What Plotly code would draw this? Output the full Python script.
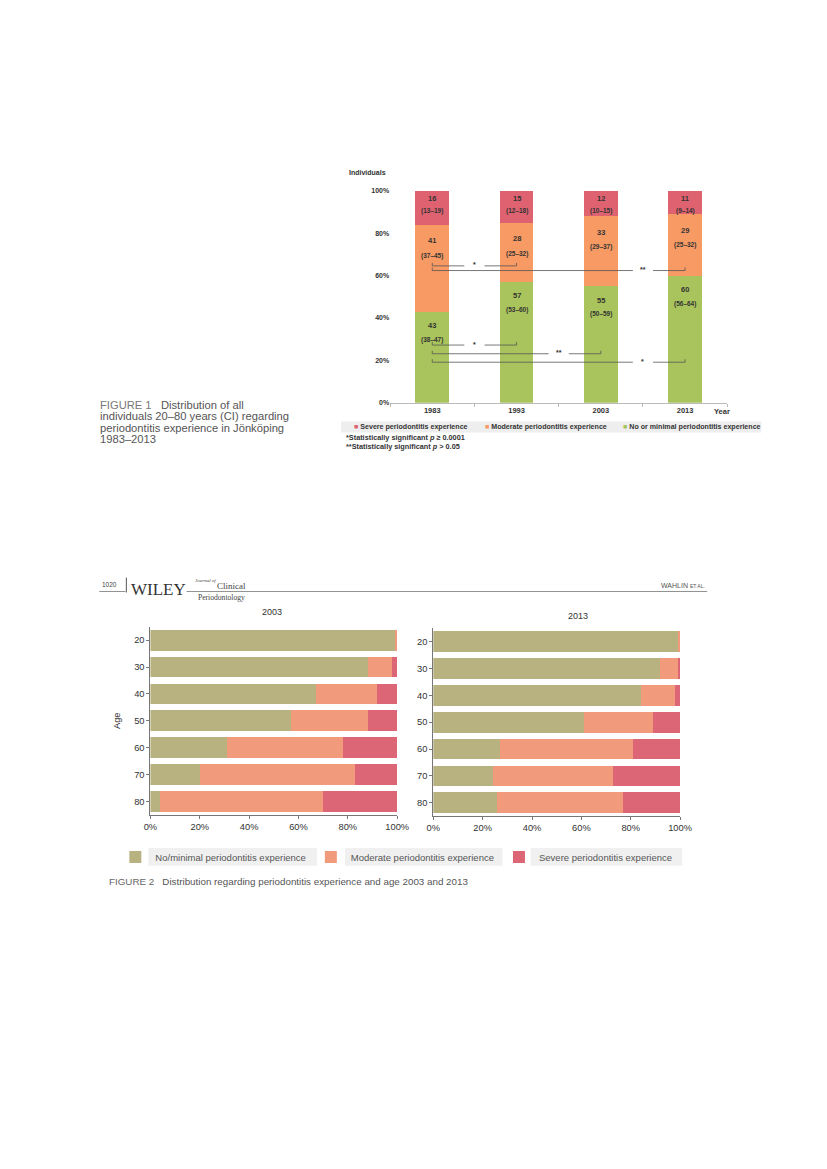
import plotly.graph_objects as go

W, H = 827, 1169

# ---------------- Figure 1 data ----------------
years = ["1983", "1993", "2003", "2013"]
severe_pct = [16, 15, 12, 11]
moderate_pct = [41, 28, 33, 29]
minimal_pct = [43, 57, 55, 60]
severe_ci = ["(13–19)", "(12–18)", "(10–15)", "(9–14)"]
moderate_ci = ["(37–45)", "(25–32)", "(29–37)", "(25–32)"]
minimal_ci = ["(38–47)", "(53–60)", "(50–59)", "(56–64)"]
y_ticks_pct = [0, 20, 40, 60, 80, 100]

# significance brackets (from bar index, to bar index, level in %, mark)
sig_from = [0, 0, 0, 0, 0]
sig_to = [1, 3, 1, 2, 3]
sig_level = [64.6, 62.4, 27.2, 23.1, 19.1]
sig_mark = ["*", "**", "*", "**", "*"]

# ---------------- Figure 2 data ----------------
ages = ["20", "30", "40", "50", "60", "70", "80"]
minimal_2003 = [99, 88, 67, 57, 31, 20, 4]
moderate_2003 = [1, 10, 25, 31, 47, 63, 66]
severe_2003 = [0, 2, 8, 12, 22, 17, 30]
minimal_2013 = [99, 92, 84, 61, 27, 24, 26]
moderate_2013 = [1, 7, 14, 28, 54, 49, 51]
severe_2013 = [0, 1, 2, 11, 19, 27, 23]
x_ticks_pct = [0, 20, 40, 60, 80, 100]

# ---------------- styles ----------------
G1, M1, S1 = "#a9c45c", "#f79a64", "#df6271"
G2, M2, S2 = "#b8b281", "#f29a7c", "#dc6676"
SANS = "Liberation Sans, Arial, sans-serif"
SERIF = "Liberation Serif, Times New Roman, serif"
TXT = "#333333"


def fx(x):
    # page pixel -> figure pixel (calibrated against the rendered page)
    return (x - 16) / 0.974


def px(x):
    return fx(x) / W


def py(y):
    return 1 - (y - 9) / H


fig = go.Figure()

# Figure 1 stacked columns
for vals, col, nm in [(minimal_pct, G1, "No or minimal periodontitis experience"),
                      (moderate_pct, M1, "Moderate periodontitis experience"),
                      (severe_pct, S1, "Severe periodontitis experience")]:
    fig.add_trace(go.Bar(x=years, y=vals, name=nm, marker=dict(color=col, line=dict(width=0)),
                         width=0.4, xaxis="x", yaxis="y", showlegend=False, hoverinfo="skip"))

# Figure 2 horizontal stacked bars
for xa, ya, mn, md, sv, show in [("x2", "y2", minimal_2003, moderate_2003, severe_2003, True),
                                 ("x3", "y3", minimal_2013, moderate_2013, severe_2013, False)]:
    for vals, col, nm in [(mn, G2, "No/minimal periodontitis experience"),
                          (md, M2, "Moderate periodontitis experience"),
                          (sv, S2, "Severe periodontitis experience")]:
        fig.add_trace(go.Bar(y=ages, x=vals, orientation="h", name=nm, legendgroup=nm,
                             marker=dict(color=col, line=dict(width=0)), width=0.77,
                             xaxis=xa, yaxis=ya, showlegend=show, hoverinfo="skip"))

annotations = []
shapes = []


def ptext(x, y, text, size, color=TXT, family=SANS, xanchor="left"):
    annotations.append(dict(x=px(x), y=py(y), xref="paper", yref="paper", xanchor=xanchor,
                            yanchor="middle", text=text, showarrow=False,
                            font=dict(family=family, size=size, color=color)))


# value labels in figure 1
for i, yr in enumerate(years):
    tops = [minimal_pct[i], minimal_pct[i] + moderate_pct[i],
            minimal_pct[i] + moderate_pct[i] + severe_pct[i]]
    vals = [minimal_pct[i], moderate_pct[i], severe_pct[i]]
    cis = [minimal_ci[i], moderate_ci[i], severe_ci[i]]
    offs = [(14, 28), (16, 31), (8, 20)]
    for top, v, ci, (o1, o2) in zip(tops, vals, cis, offs):
        annotations.append(dict(x=i, y=top, xref="x", yref="y", text=f"<b>{v}</b>",
                                showarrow=False, yshift=-o1, font=dict(family=SANS, size=7.5, color=TXT)))
        annotations.append(dict(x=i, y=top, xref="x", yref="y", text=f"<b>{ci}</b>",
                                showarrow=False, yshift=-o2, font=dict(family=SANS, size=6.5, color=TXT)))

# significance brackets
gap = 0.12
for a, b, lv, mk in zip(sig_from, sig_to, sig_level, sig_mark):
    mid = b - 0.5
    line = dict(color="#555555", width=0.8)
    shapes.append(dict(type="line", xref="x", yref="y", x0=a, x1=mid - gap, y0=lv, y1=lv, line=line))
    shapes.append(dict(type="line", xref="x", yref="y", x0=mid + gap, x1=b, y0=lv, y1=lv, line=line))
    shapes.append(dict(type="line", xref="x", yref="y", x0=a, x1=a, y0=lv, y1=lv + 1.4, line=line))
    shapes.append(dict(type="line", xref="x", yref="y", x0=b, x1=b, y0=lv, y1=lv + 1.4, line=line))
    annotations.append(dict(x=mid, y=lv, xref="x", yref="y", text=f"<b>{mk}</b>", showarrow=False,
                            yshift=1, font=dict(family=SANS, size=7, color=TXT)))

# figure 1 texts
ptext(347, 170, "<b>Individuals</b>", 7)
ptext(711, 411, "<b>Year</b>", 7.5)
# figure 1 legend (small square markers on grey band)
shapes.append(dict(type="rect", xref="paper", yref="paper", x0=px(341), x1=px(760), y0=py(432), y1=py(421),
                   fillcolor="#eeeeee", line=dict(width=0), layer="below"))
for xl, col, nm in [(352, S1, "Severe periodontitis experience"),
                    (483, M1, "Moderate periodontitis experience"),
                    (620, G1, "No or minimal periodontitis experience")]:
    ptext(xl, 426.5, f"<span style='color:{col}'>■</span> <b>{nm}</b>", 7.1)
ptext(344, 437.5, "<b>*Statistically significant <i>p</i> ≥ 0.0001</b>", 7.3)
ptext(344, 446.5, "<b>**Statistically significant <i>p</i> > 0.05</b>", 7.3)

cap1_lines = ["<span style='color:#777'>FIGURE 1</span>   Distribution of all",
              "individuals 20–80 years (CI) regarding",
              "periodontitis experience in Jönköping",
              "1983–2013"]
for k, ln in enumerate(cap1_lines):
    ptext(99, 404 + 11.6 * k, ln, 11.2, color="#555555")

# page header for figure 2
ptext(101, 585, "1020", 6.5, color="#444")
ptext(130, 590, "WILEY", 17, color="#333", family=SERIF)
ptext(193, 580.5, "<i>Journal of</i>", 5, color="#444", family=SERIF)
ptext(215, 586.5, "Clinical", 9, color="#444", family=SERIF)
ptext(196, 598.5, "Periodontology", 7.6, color="#444", family=SERIF)
ptext(706, 586, "WAHLIN <span style='font-size:5px'>ET AL.</span>", 7, color="#555", xanchor="right")
ptext(272, 613, "2003", 9, xanchor="center")
ptext(577, 617, "2013", 9, xanchor="center")
ptext(108, 884, "<span style='color:#666'>FIGURE 2</span>   Distribution regarding periodontitis experience and age 2003 and 2013",
      9.8, color="#555")

hdr = dict(color="#777777", width=0.8)
shapes += [
    dict(type="line", xref="paper", yref="paper", x0=px(100), x1=px(126), y0=py(592), y1=py(592), line=hdr),
    dict(type="line", xref="paper", yref="paper", x0=px(187), x1=px(706), y0=py(592), y1=py(592), line=hdr),
    dict(type="line", xref="paper", yref="paper", x0=px(127), x1=px(127), y0=py(578), y1=py(593),
         line=dict(color="#555", width=1)),
]
# grey boxes behind figure 2 legend labels
for x0, x1 in [(149, 317), (345, 502), (530, 681)]:
    shapes.append(dict(type="rect", xref="paper", yref="paper", x0=px(x0), x1=px(x1), y0=py(868), y1=py(850),
                       fillcolor="#f0f0f0", line=dict(width=0), layer="below"))

pct_text = [f"{v}%" for v in x_ticks_pct]
ax_common2 = dict(range=[0, 100], tickvals=x_ticks_pct, ticktext=pct_text, showline=True,
                  linecolor="#777", ticks="outside", ticklen=3, tickcolor="#777", showgrid=False,
                  zeroline=False, tickfont=dict(family=SANS, size=9.3, color=TXT), fixedrange=True)
ay_common2 = dict(type="category", autorange="reversed", showline=True, linecolor="#777",
                  ticks="outside", ticklen=3, tickcolor="#777", showgrid=False, zeroline=False,
                  tickfont=dict(family=SANS, size=9.3, color=TXT))

fig.update_layout(
    width=W, height=H, margin=dict(l=0, r=0, t=0, b=0),
    paper_bgcolor="white", plot_bgcolor="white", barmode="stack",
    font=dict(family=SANS, color=TXT),
    xaxis=dict(domain=[px(390), px(726)], type="category", range=[-0.5, 3.5], anchor="y",
               showline=True, linecolor="#bbbbbb", ticks="outside", tickson="boundaries",
               ticklen=3, tickcolor="#bbbbbb", showgrid=False,
               tickfont=dict(family=SANS, size=7.5, color=TXT, weight="bold")),
    yaxis=dict(domain=[py(402), py(189)], range=[0, 100], anchor="x", tickvals=y_ticks_pct,
               ticktext=[f"{v}%" for v in y_ticks_pct], showline=False, showgrid=False,
               zeroline=False, ticks="", tickfont=dict(family=SANS, size=7, color=TXT, weight="bold")),
    xaxis2=dict(domain=[px(151), px(397)], anchor="y2", **ax_common2),
    yaxis2=dict(domain=[py(816.5), py(627.5)], anchor="x2",
                title=dict(text="Age", standoff=11, font=dict(family=SANS, size=9.3, color=TXT)),
                **ay_common2),
    xaxis3=dict(domain=[px(433), px(679)], anchor="y3", **ax_common2),
    yaxis3=dict(domain=[py(818), py(629)], anchor="x3", **ay_common2),
    legend=dict(orientation="h", x=(fx(155) - 40) / W, y=py(859), xanchor="left", yanchor="middle",
                bgcolor="rgba(0,0,0,0)", font=dict(family=SANS, size=9.5, color="#555"),
                traceorder="normal"),
    annotations=annotations,
    shapes=shapes,
)

fig.write_html("out.html")
